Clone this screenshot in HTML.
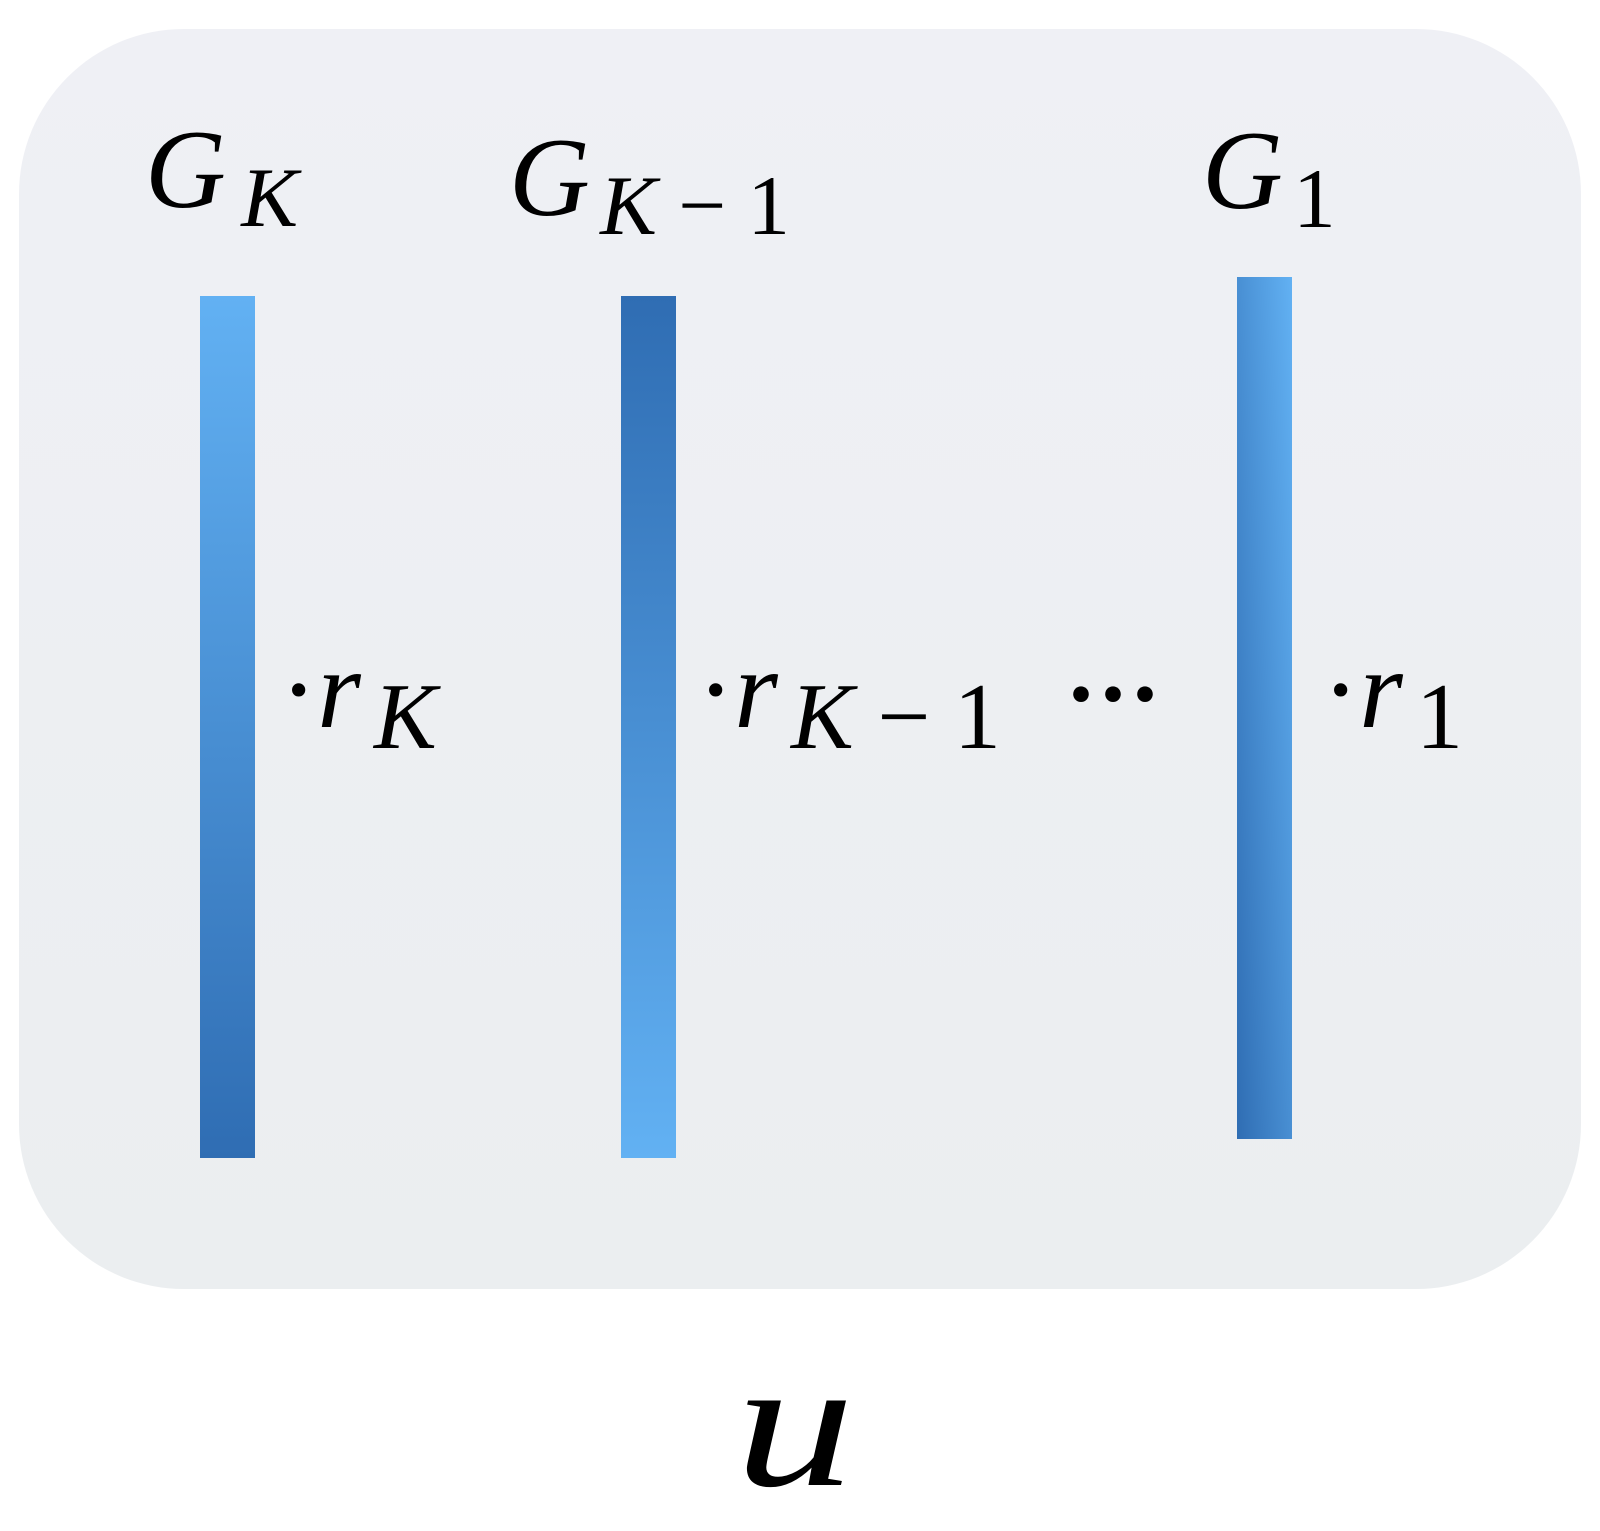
<!DOCTYPE html>
<html><head><meta charset="utf-8"><style>
html,body{margin:0;padding:0;background:#fff;width:1600px;height:1531px;overflow:hidden;position:relative}
.box{position:absolute;left:19px;top:29px;width:1562px;height:1260px;border-radius:165px;background:linear-gradient(#eff0f5,#ebeef0)}
.bar{position:absolute;width:55px;height:862px}
.t{position:absolute;font-family:"Liberation Serif",serif;font-style:italic;color:#000;white-space:nowrap;line-height:1}
.s{font-size:0.76em;position:relative;top:0.22em;margin-left:0.12em;letter-spacing:0.05em}
.r .s{font-size:0.84em;margin-left:0.14em}
.n{font-style:normal}
.m{margin:0 0.2em}
</style></head><body>
<div class="box"></div>
<div class="bar" style="left:200px;top:296px;background:linear-gradient(#62b1f3,#2f6db3)"></div>
<div class="bar" style="left:621px;top:296px;background:linear-gradient(#2f6db3,#62b1f3)"></div>
<div class="bar" style="left:1237px;top:277px;background:linear-gradient(to bottom left,#62b1f3,#2f6db3)"></div>
<div class="t" style="left:145px;top:114px;font-size:112px">G<span class="s" style="margin-left:0.18em">K</span></div>
<div class="t" style="left:509px;top:122px;font-size:112px">G<span class="s">K<span class="n m">−</span><span class="n">1</span></span></div>
<div class="t" style="left:1202px;top:115px;font-size:112px">G<span class="s n">1</span></div>
<div class="t r" style="left:280px;top:634px;font-size:112px"><span class="n">·</span>r<span class="s">K</span></div>
<div class="t r" style="left:697px;top:634px;font-size:112px"><span class="n">·</span>r<span class="s">K<span class="n m">−</span><span class="n">1</span></span></div>
<div class="t n" style="left:1065px;top:646px;font-size:96px;font-weight:bold;font-style:normal">···</div>
<div class="t r" style="left:1322px;top:634px;font-size:112px"><span class="n">·</span>r<span class="s n">1</span></div>
<div class="t" style="left:735px;top:1331px;font-size:184px;transform:scaleX(1.3);transform-origin:left top">u</div>
</body></html>
